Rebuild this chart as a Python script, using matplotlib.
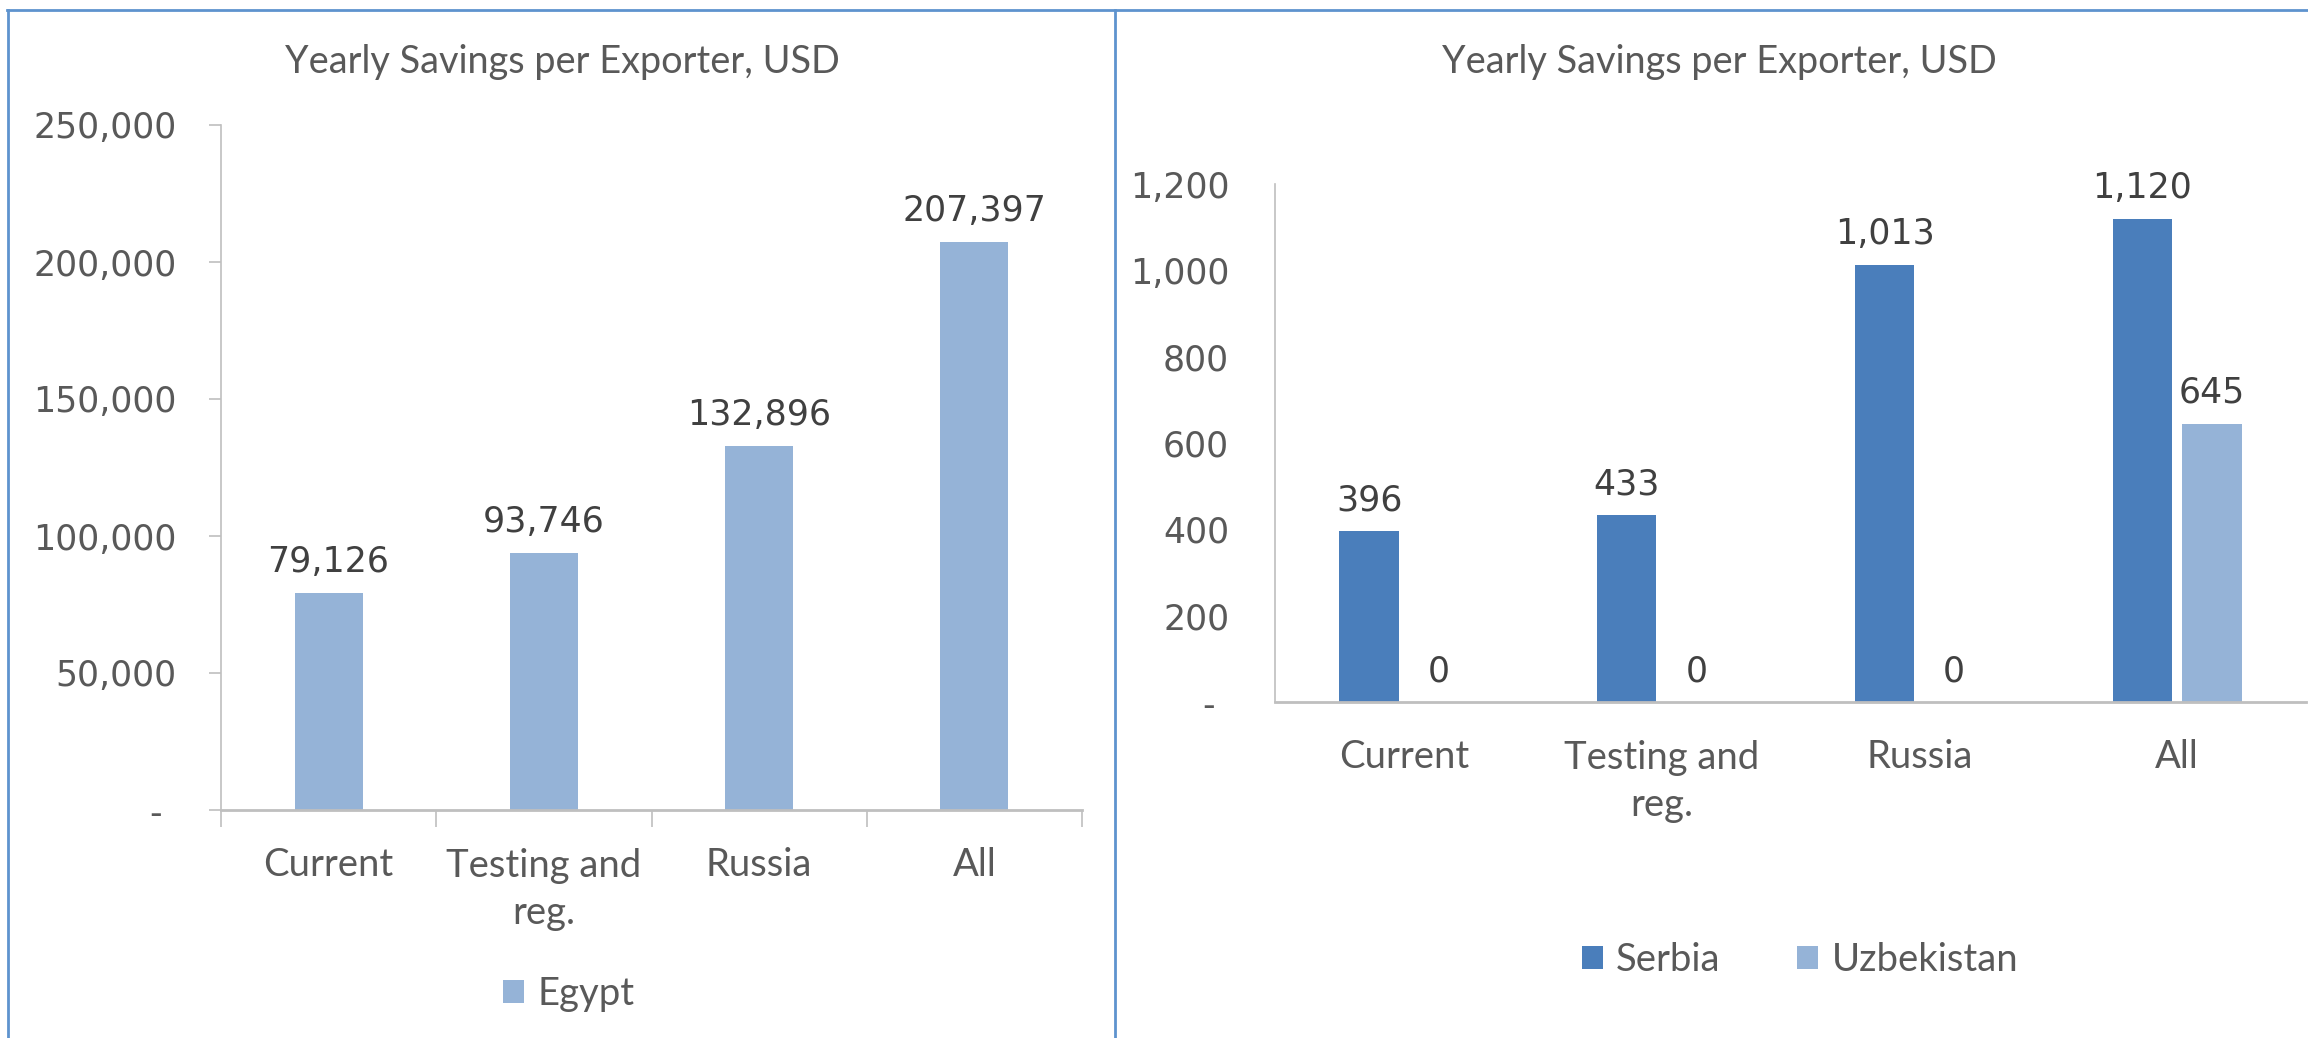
import matplotlib
matplotlib.use("Agg")
import matplotlib.pyplot as plt
from matplotlib.patches import Patch
from matplotlib.lines import Line2D
from matplotlib.ticker import FuncFormatter, FixedLocator
import numpy as np

# ---------------- data ----------------
categories = ["Current", "Testing and\nreg.", "Russia", "All"]
title = "Yearly Savings per Exporter, USD"

egypt = [79126, 93746, 132896, 207397]
left_yticks = [0, 50000, 100000, 150000, 200000, 250000]

serbia = [396, 433, 1013, 1120]
uzbekistan = [0, 0, 0, 645]
right_yticks = [0, 200, 400, 600, 800, 1000, 1200]

# ---------------- style ----------------
W, H = 2308, 1038
fig = plt.figure(figsize=(W / 100, H / 100), dpi=100)
fig.patch.set_facecolor("white")

CAL = ["Lato", "DejaVu Sans"]
NUM = ["DejaVu Sans"]
C_LIGHT = "#95B3D7"
C_DARK = "#4A7EBB"
C_TICK = "#595959"
C_LAB = "#404040"
C_AXIS = "#BFBFBF"
C_FRAME = "#5E93CE"


def px2fx(x):
    return x / W


def px2fy(y):
    return 1 - y / H


renderer = fig.canvas.get_renderer()


def fit_size(text, target_px, family, base=20):
    t = fig.text(0, 0, text, fontsize=base, family=family)
    w = t.get_window_extent(renderer).width
    t.remove()
    return base * target_px / w


cat_fs = fit_size("Current", 131, CAL)
title_fs = fit_size(title, 555, CAL)
num_fs = 25
LS = 1.39

# ---------------- frame lines ----------------
lw_frame = 2.0
fig.add_artist(Line2D([px2fx(7), px2fx(W)], [px2fy(9.5), px2fy(9.5)], color=C_FRAME, lw=lw_frame))
fig.add_artist(Line2D([px2fx(8), px2fx(8)], [px2fy(9.5), px2fy(H)], color=C_FRAME, lw=lw_frame))
fig.add_artist(Line2D([px2fx(1115), px2fx(1115)], [px2fy(9.5), px2fy(H)], color=C_FRAME, lw=lw_frame))

# ---------------- titles ----------------
fig.text(px2fx(562), px2fy(62), title, ha="center", va="center", fontsize=title_fs,
         family=CAL, color=C_TICK)
fig.text(px2fx(1719), px2fy(62), title, ha="center", va="center", fontsize=title_fs,
         family=CAL, color=C_TICK)


def dash_fmt(v, pos):
    return "-\u2009\u2009" if v == 0 else f"{int(v):,}"


# ---------------- left chart ----------------
axL = fig.add_axes([px2fx(221), px2fy(810), (1082 - 221) / W, (810 - 125) / H])
x = np.arange(len(categories))
axL.bar(x, egypt, width=0.316, color=C_LIGHT, zorder=2)
axL.set_xlim(-0.5, len(categories) - 0.5)
axL.set_ylim(0, 250000)
for s in ["top", "right"]:
    axL.spines[s].set_visible(False)
axL.spines["left"].set_color(C_AXIS)
axL.spines["left"].set_linewidth(1.2)
axL.spines["bottom"].set_color(C_AXIS)
axL.spines["bottom"].set_linewidth(2.0)
axL.yaxis.set_major_locator(FixedLocator(left_yticks))
axL.yaxis.set_major_formatter(FuncFormatter(dash_fmt))
axL.tick_params(axis="y", direction="out", length=9, width=1.2, color=C_AXIS,
                pad=23, labelsize=num_fs, labelcolor=C_TICK)
for lab in axL.get_yticklabels():
    lab.set_family(NUM)
axL.set_xticks(x)
axL.set_xticklabels(categories, family=CAL, fontsize=cat_fs, color=C_TICK, linespacing=LS)
axL.set_xticks(np.arange(-0.5, len(categories), 1.0), minor=True)
axL.tick_params(axis="x", which="major", length=0, pad=27)
axL.tick_params(axis="x", which="minor", direction="out", length=12, width=1.2, color=C_AXIS)
for xi, v in zip(x, egypt):
    axL.annotate(f"{v:,}", (xi, v), xytext=(0, 15), textcoords="offset points",
                 ha="center", va="baseline", fontsize=num_fs, family=NUM, color=C_LAB)

fig.legend(handles=[Patch(facecolor=C_LIGHT, label="Egypt")], loc="center",
           bbox_to_anchor=(px2fx(569), px2fy(994)), frameon=False,
           handlelength=0.55, handleheight=0.55, handletextpad=0.35, labelcolor=C_TICK,
           prop={"family": CAL, "size": cat_fs})

# ---------------- right chart ----------------
axR = fig.add_axes([px2fx(1275), px2fy(702), (2306 - 1275) / W, (702 - 184) / H])
bw = 0.23
off = 0.135
axR.bar(x - off, serbia, width=bw, color=C_DARK, zorder=2)
axR.bar(x + off, uzbekistan, width=bw, color=C_LIGHT, zorder=2)
axR.set_xlim(-0.5, len(categories) - 0.5)
axR.set_ylim(0, 1200)
for s in ["top", "right"]:
    axR.spines[s].set_visible(False)
axR.spines["left"].set_color(C_AXIS)
axR.spines["left"].set_linewidth(1.2)
axR.spines["bottom"].set_color(C_AXIS)
axR.spines["bottom"].set_linewidth(2.0)
axR.yaxis.set_major_locator(FixedLocator(right_yticks))
axR.yaxis.set_major_formatter(FuncFormatter(dash_fmt))
axR.tick_params(axis="y", length=0, pad=33, labelsize=num_fs, labelcolor=C_TICK)
for lab in axR.get_yticklabels():
    lab.set_family(NUM)
axR.set_xticks(x)
axR.set_xticklabels(categories, family=CAL, fontsize=cat_fs, color=C_TICK, linespacing=LS)
axR.tick_params(axis="x", length=0, pad=27)
for xi, v in zip(x - off, serbia):
    axR.annotate(f"{v:,}", (xi, v), xytext=(0, 15), textcoords="offset points",
                 ha="center", va="baseline", fontsize=num_fs, family=NUM, color=C_LAB)
for xi, v in zip(x + off, uzbekistan):
    axR.annotate(f"{v:,}", (xi, v), xytext=(0, 15), textcoords="offset points",
                 ha="center", va="baseline", fontsize=num_fs, family=NUM, color=C_LAB)

fig.legend(handles=[Patch(facecolor=C_DARK, label="Serbia"),
                    Patch(facecolor=C_LIGHT, label="Uzbekistan")], loc="center", ncol=2,
           bbox_to_anchor=(px2fx(1800), px2fy(960)), frameon=False,
           handlelength=0.55, handleheight=0.55, handletextpad=0.35, columnspacing=2.0,
           labelcolor=C_TICK, prop={"family": CAL, "size": cat_fs})

fig.savefig("out.png", dpi=100, facecolor="white")
